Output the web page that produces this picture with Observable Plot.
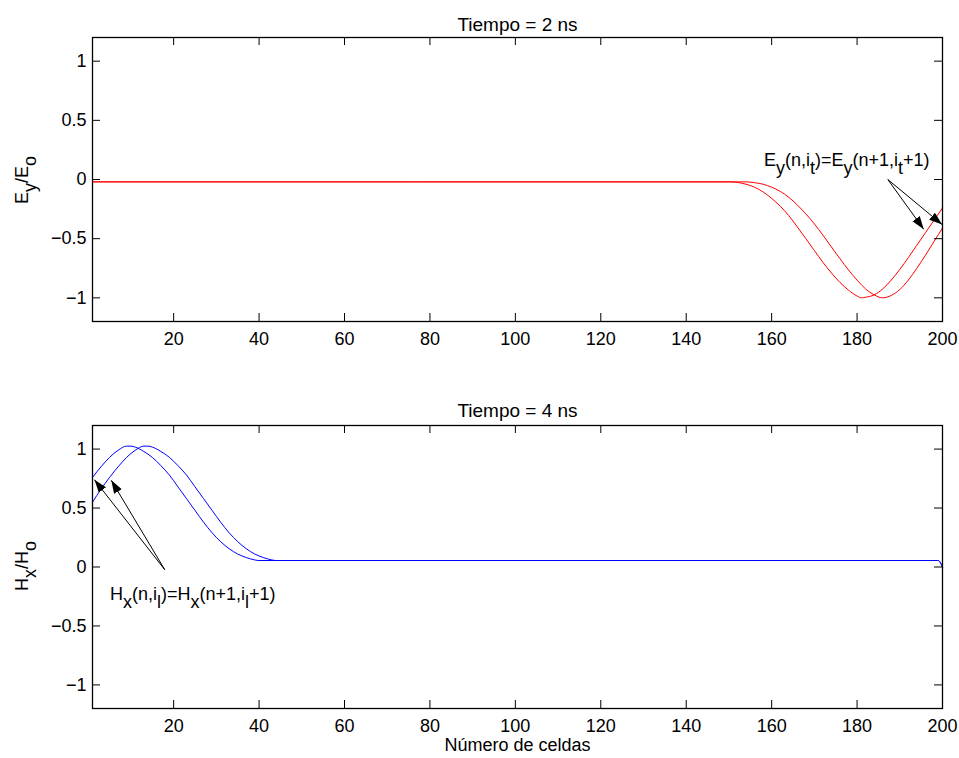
<!DOCTYPE html>
<html><head><meta charset="utf-8">
<script src="https://cdn.jsdelivr.net/npm/d3@7"></script>
<script src="https://cdn.jsdelivr.net/npm/@observablehq/plot@0.6"></script>
<style>
html,body{margin:0;padding:0;background:#fff;}
#chart{width:959px;}
#chart svg{display:block;}
</style></head><body><div id="chart"></div>
<script>
// ---------- data ----------
const xTicks = [20, 40, 60, 80, 100, 120, 140, 160, 180, 200];
const yTicks = [-1, -0.5, 0, 0.5, 1];
const titleTop = "Tiempo = 2 ns";
const titleBottom = "Tiempo = 4 ns";
const xLabel = "Número de celdas";

// E_y / E_o at t = 2 ns (two consecutive time steps)
const eyA_x = [1, 150, 152, 154, 156, 158, 160, 162, 164, 166, 168, 170, 172, 174, 176, 178, 180, 181, 182, 184, 186, 188, 190, 192, 194, 196, 198, 200];
const eyA_v = [-0.02, -0.02, -0.025, -0.04, -0.065, -0.105, -0.16, -0.225, -0.305, -0.40, -0.50, -0.60, -0.70, -0.79, -0.87, -0.935, -0.985, -1.0, -0.995, -0.975, -0.925, -0.85, -0.76, -0.66, -0.555, -0.45, -0.345, -0.24];
const eyB_x = [1, 154, 156, 158, 160, 162, 164, 166, 168, 170, 172, 174, 176, 178, 180, 182, 184, 186, 188, 190, 192, 194, 196, 198, 200];
const eyB_v = [-0.02, -0.02, -0.027, -0.04, -0.065, -0.10, -0.15, -0.215, -0.29, -0.375, -0.47, -0.57, -0.67, -0.765, -0.85, -0.925, -0.975, -1.0, -0.98, -0.93, -0.85, -0.75, -0.64, -0.525, -0.41];

// H_x / H_o at t = 4 ns
const hxC_x = [1, 3, 5, 7, 9, 10, 11, 13, 15, 17, 19, 21, 23, 25, 27, 29, 31, 33, 35, 37, 39, 40, 199, 200];
const hxC_v = [0.76, 0.85, 0.93, 0.99, 1.025, 1.025, 1.017, 0.98, 0.93, 0.86, 0.78, 0.68, 0.58, 0.48, 0.38, 0.29, 0.215, 0.155, 0.11, 0.08, 0.06, 0.055, 0.055, 0.0];
const hxD_x = [1, 3, 5, 7, 9, 11, 13, 14, 15, 17, 19, 21, 23, 25, 27, 29, 31, 33, 35, 37, 39, 41, 43, 44, 199, 200];
const hxD_v = [0.55, 0.66, 0.76, 0.85, 0.93, 0.99, 1.025, 1.025, 1.017, 0.98, 0.93, 0.86, 0.78, 0.68, 0.58, 0.48, 0.38, 0.29, 0.215, 0.155, 0.11, 0.08, 0.06, 0.055, 0.055, 0.0];

// annotations
const annotTop = {x: 158.2, y: 0.16, text: "Ey(n,it)=Ey(n+1,it+1)"};
const annotBottom = {x: 5.1, y: -0.234, text: "Hx(n,il)=Hx(n+1,il+1)"};
const arrowsTop = [
  {x1: 187.2, y1: 0.0, x2: 195.6, y2: -0.42},
  {x1: 187.2, y1: 0.0, x2: 199.9, y2: -0.38}
];
const arrowsBottom = [
  {x1: 17.9, y1: -0.022, x2: 1.45, y2: 0.74},
  {x1: 17.9, y1: -0.022, x2: 5.4, y2: 0.735}
];
// rich-text parts: [string, isSubscript]
const richText = {
  "Ey(n,it)=Ey(n+1,it+1)": [["E",0],["y",1],["(n,i",0],["t",1],[")=E",0],["y",1],["(n+1,i",0],["t",1],["+1)",0]],
  "Hx(n,il)=Hx(n+1,il+1)": [["H",0],["x",1],["(n,i",0],["l",1],[")=H",0],["x",1],["(n+1,i",0],["l",1],["+1)",0]]
};
const yLabelTop = [["E",0],["y",1],["/E",0],["o",1]];
const yLabelBottom = [["H",0],["x",1],["/H",0],["o",1]];

// ---------- helpers ----------
const NS = "http://www.w3.org/2000/svg";
const SUB = 7.5;
function applyRich(el, parts) {
  while (el.firstChild) el.removeChild(el.firstChild);
  let cur = 0;
  for (const [s, sub] of parts) {
    const t = document.createElementNS(NS, "tspan");
    const target = sub ? SUB : 0;
    if (target !== cur) t.setAttribute("dy", String(target - cur));
    cur = target;
    t.textContent = s;
    el.appendChild(t);
  }
}
const rows = (xs, vs, k) => xs.map((x, i) => ({x, v: vs[i], k}));
const fmt = d => d === 0 ? "0" : String(d).replace("-", "\u2212");

function panel({series, color, title, titleDy, height, mt, mb, arrows, annot, xlab, ylab, ylabY, markerId}) {
  const W = 959, ml = 92, mr = 17;
  const fw = W - ml - mr, fh = height - mt - mb;
  const marks = [
    Plot.line(series, {x: "x", y: "v", z: "k", stroke: color, strokeWidth: 1, curve: "monotone-x"}),
    Plot.frame({stroke: "black", strokeWidth: 1.3}),
    Plot.tickX(xTicks, {x: d => d, stroke: "black", strokeWidth: 1, insetTop: fh - 8}),
    Plot.tickX(xTicks, {x: d => d, stroke: "black", strokeWidth: 1, insetBottom: fh - 8}),
    Plot.tickY(yTicks, {y: d => d, stroke: "black", strokeWidth: 1, insetRight: fw - 8}),
    Plot.tickY(yTicks, {y: d => d, stroke: "black", strokeWidth: 1, insetLeft: fw - 8}),
    Plot.axisX({ticks: xTicks, tickSize: 0, tickPadding: 11, label: null, tickFormat: d => String(d)}),
    Plot.axisY({ticks: yTicks, tickSize: 0, tickPadding: 6, label: null, tickFormat: fmt}),
    Plot.text([title], {frameAnchor: "top", dy: titleDy, fill: "black", fontSize: 19}),
    Plot.link(arrows, {x1: "x1", y1: "y1", x2: "x2", y2: "y2", stroke: "black", strokeWidth: 1}),
    Plot.text([annot], {x: "x", y: "y", text: "text", textAnchor: "start", fill: "black"})
  ];
  if (xlab) marks.push(Plot.text([xlab], {frameAnchor: "bottom", dy: 42, fill: "black"}));
  const svg = Plot.plot({
    width: W, height,
    marginLeft: ml, marginRight: mr, marginTop: mt, marginBottom: mb,
    x: {domain: [1, 200]},
    y: {domain: [-1.2, 1.2]},
    style: {fontFamily: "'Liberation Sans', Arial, Helvetica, sans-serif", fontSize: "18px", background: "white", color: "black", overflow: "visible"},
    marks
  });
  // arrowhead marker
  const defs = document.createElementNS(NS, "defs");
  const m = document.createElementNS(NS, "marker");
  m.setAttribute("id", markerId);
  m.setAttribute("markerUnits", "userSpaceOnUse");
  m.setAttribute("markerWidth", "14");
  m.setAttribute("markerHeight", "10");
  m.setAttribute("refX", "13");
  m.setAttribute("refY", "4.5");
  m.setAttribute("orient", "auto");
  m.setAttribute("viewBox", "0 0 14 10");
  const p = document.createElementNS(NS, "path");
  p.setAttribute("d", "M0,0 L13,4.5 L0,9 Z");
  p.setAttribute("fill", "black");
  m.appendChild(p);
  defs.appendChild(m);
  svg.insertBefore(defs, svg.firstChild);
  svg.querySelectorAll('g[aria-label="link"] path').forEach(el => el.setAttribute("marker-end", `url(#${markerId})`));
  // rich text (subscripts)
  svg.querySelectorAll("text").forEach(el => {
    const parts = richText[el.textContent];
    if (parts) applyRich(el, parts);
  });
  // y label
  const t = document.createElementNS(NS, "text");
  t.setAttribute("transform", `translate(28,${ylabY}) rotate(-90)`);
  t.setAttribute("text-anchor", "middle");
  t.setAttribute("fill", "black");
  applyRich(t, ylab);
  svg.appendChild(t);
  return svg;
}

const topSvg = panel({
  series: [...rows(eyA_x, eyA_v, "a"), ...rows(eyB_x, eyB_v, "b")],
  color: "#ff0000", title: titleTop, titleDy: -20, height: 379, mt: 37, mb: 58,
  arrows: arrowsTop, annot: annotTop, xlab: null, ylab: yLabelTop, ylabY: 180, markerId: "ahTop"
});
const bottomSvg = panel({
  series: [...rows(hxC_x, hxC_v, "c"), ...rows(hxD_x, hxD_v, "d")],
  color: "#0000ff", title: titleBottom, titleDy: -22, height: 379, mt: 46, mb: 50,
  arrows: arrowsBottom, annot: annotBottom, xlab: xLabel, ylab: yLabelBottom, ylabY: 187, markerId: "ahBottom"
});
document.getElementById("chart").append(topSvg, bottomSvg);
</script>
</body></html>
